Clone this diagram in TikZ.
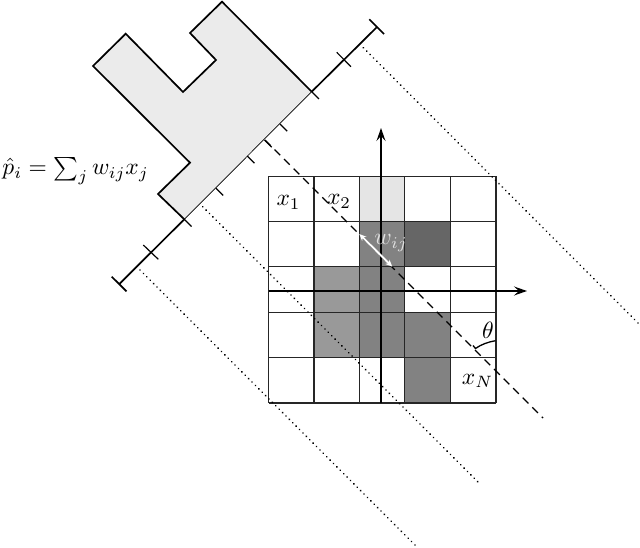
\documentclass[tikz,border=0pt]{standalone}
\usetikzlibrary{arrows.meta}
\tikzset{
  gridline/.style={line width=1.4pt,black!85},
  axisline/.style={line width=1.6pt,black,-{Stealth[length=13pt,width=9pt,inset=5pt]}},
  raydot/.style={line width=1.8pt,line cap=round,dash pattern=on 0.1pt off 4.7pt,black},
  raydash/.style={line width=1.4pt,dash pattern=on 8pt off 5.5pt,black},
  detector/.style={line width=1.7pt,black},
  tickmark/.style={line width=1.2pt,black},
  lab/.style={inner sep=0pt,scale=2.35},
}
\begin{document}
\begin{tikzpicture}[x=1pt,y=-1pt]
\useasboundingbox (0,0) rectangle (640,548);
% cells
\def\xa{268.5}\def\xb{314}\def\xc{359.5}\def\xd{404.5}\def\xe{450.5}\def\xf{496}
\def\ya{176.5}\def\yb{221.5}\def\yc{266.5}\def\yd{312.5}\def\ye{357.5}\def\yf{403}
\fill[black!10] (\xc,\ya) rectangle (\xd,\yb);
\fill[black!49] (\xc,\yb) rectangle (\xd,\yc);
\fill[black!60] (\xd,\yb) rectangle (\xe,\yc);
\fill[black!40] (\xb,\yc) rectangle (\xc,\yd);
\fill[black!49] (\xc,\yc) rectangle (\xd,\yd);
\fill[black!40] (\xb,\yd) rectangle (\xc,\ye);
\fill[black!49] (\xc,\yd) rectangle (\xd,\ye);
\fill[black!49] (\xd,\yd) rectangle (\xe,\ye);
\fill[black!49] (\xd,\ye) rectangle (\xe,\yf);
% grid
\foreach \v in {\xa,\xb,\xc,\xd,\xe,\xf} \draw[gridline] (\v,\ya) -- (\v,\yf);
\foreach \v in {\ya,\yb,\yc,\yd,\ye,\yf} \draw[gridline] (\xa,\v) -- (\xf,\v);
% axes
\coordinate (hs) at (268.5,291);
\coordinate (he) at (527,291);
\coordinate (vs) at (381,403);
\coordinate (ve) at (381,128);
\draw[axisline] (hs) -- (he);
\draw[axisline] (vs) -- (ve);
% projection profile
\coordinate (pa) at (184.3,219.3);
\coordinate (pb) at (311.7,91.7);
\fill[black!8] (93,66) -- (125.7,33.7) -- (183,92) -- (216,60) -- (190,33) -- (222,1.7)
  -- (pb) -- (pa) -- (158,194) -- (190,162.7) -- cycle;
\draw[detector] (pa) -- (158,194) -- (190,162.7) -- (93,66) -- (125.7,33.7) -- (183,92)
  -- (216,60) -- (190,33) -- (222,1.7) -- (pb);
% detector axis
\coordinate (da) at (119.3,284);
\coordinate (db) at (376.7,27.3);
\draw[detector] (da) -- (pa);
\draw[line width=0.7pt,black] (pa) -- (pb);
\draw[detector] (pb) -- (db);
\draw[detector] (111.7,276.7) -- (126.5,291.3);
\draw[detector] (369.3,19.3) -- (384,34);
\draw[tickmark] (143.3,245) -- (158.3,259.3);
\draw[tickmark] (336.7,52.3) -- (351,66.7);
\foreach \p/\q in {311.7/91.7, 280/124, 264.5/140, 247.3/156, 216/188.3, 184.3/219.3}
  \draw[tickmark] (\p,\q) -- ++(7.2,7.2);
% rays
\coordinate (r1s) at (363.3,47.7); \coordinate (r1e) at (638,323);
\coordinate (r2s) at (202.7,206.7); \coordinate (r2e) at (480,484);
\coordinate (r3s) at (140,270); \coordinate (r3e) at (416,546);
\coordinate (r0s) at (265,140); \coordinate (r0e) at (543,418);
\draw[raydot] (r1s) -- (r1e);
\draw[raydot] (r2s) -- (r2e);
\draw[raydot] (r3s) -- (r3e);
\draw[raydash] (r0s) -- (r0e);
% w_ij
\coordinate (wa) at (359.3,234); \coordinate (wb) at (392.3,266.7);
\draw[white,line width=1.9pt,{Stealth[length=7pt,width=6pt]}-{Stealth[length=7pt,width=6pt]}] (wa) -- (wb);
% theta
\coordinate (ta) at (475.5,348.5); \coordinate (tb) at (495.5,340.7);
\draw[line width=1.3pt] (473,345.5) -- (475.5,348.5) .. controls (481,344.5) and (488,342) .. (tb);
% labels
\node[lab] (x1) at (288.5,202.5) {$x_1$};
\node[lab] (x2) at (339,201.5) {$x_2$};
\node[lab] (xn) at (477.5,381) {$x_N$};
\node[lab] (th) at (488,330) {$\theta$};
\node[lab,text=black!12] (wij) at (391,243) {$w_{ij}$};
\node[lab,anchor=west] (eq) at (2,171) {$\hat p_i=\sum_j w_{ij}x_j$};
\end{tikzpicture}
\end{document}
